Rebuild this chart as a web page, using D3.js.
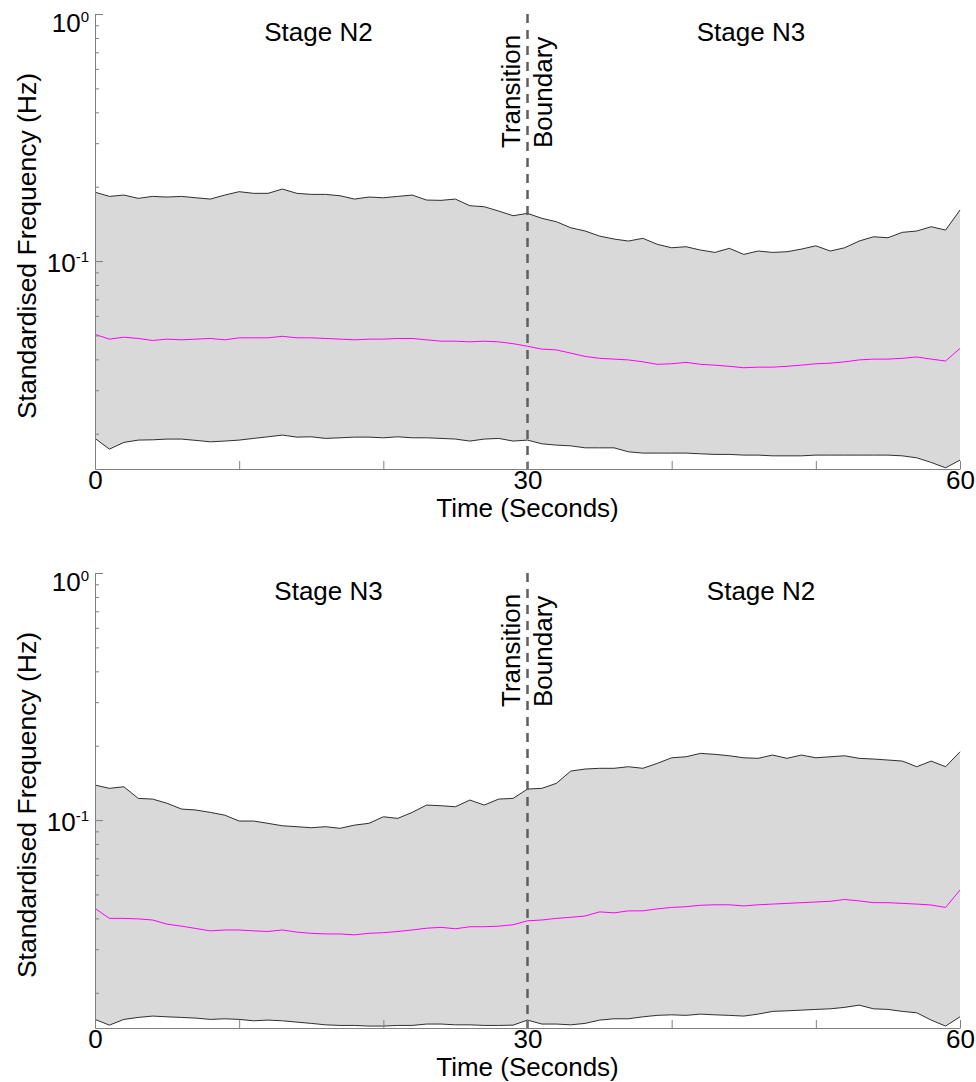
<!DOCTYPE html>
<html>
<head>
<meta charset="utf-8">
<script src="https://cdn.jsdelivr.net/npm/d3@7"></script>
<style>
  body { margin: 0; background: #fff; }
  svg { display: block; font-family: "Liberation Sans", Arial, sans-serif; }
</style>
</head>
<body>
<svg id="chart" width="976" height="1082"></svg>
<script>
// time axis, one sample per second
const seconds = [0,1,2,3,4,5,6,7,8,9,10,11,12,13,14,15,16,17,18,19,20,
  21,22,23,24,25,26,27,28,29,30,31,32,33,34,35,36,37,38,39,40,
  41,42,43,44,45,46,47,48,49,50,51,52,53,54,55,56,57,58,59,60];

// top panel: N2 -> N3 transition (Hz)
const n2n3Upper = [0.1900, 0.1827, 0.1850, 0.1794, 0.1827, 0.1816, 0.1827, 0.1804, 0.1782, 0.1850,
  0.1909, 0.1880, 0.1880, 0.1957, 0.1880, 0.1862, 0.1862, 0.1838, 0.1782, 0.1816,
  0.1804, 0.1827, 0.1850, 0.1766, 0.1761, 0.1782, 0.1675, 0.1659, 0.1594, 0.1526,
  0.1560, 0.1489, 0.1443, 0.1364, 0.1323, 0.1262, 0.1228, 0.1205, 0.1236, 0.1169,
  0.1132, 0.1143, 0.1108, 0.1084, 0.1126, 0.1064, 0.1098, 0.1084, 0.1091, 0.1118,
  0.1153, 0.1098, 0.1132, 0.1205, 0.1254, 0.1243, 0.1307, 0.1323, 0.1377, 0.1335,
  0.1609];
const n2n3Median = [0.0505, 0.0483, 0.0492, 0.0486, 0.0477, 0.0483, 0.0480, 0.0483, 0.0486, 0.0480,
  0.0489, 0.0489, 0.0489, 0.0496, 0.0489, 0.0489, 0.0486, 0.0483, 0.0480, 0.0483,
  0.0483, 0.0486, 0.0486, 0.0480, 0.0474, 0.0474, 0.0471, 0.0474, 0.0471, 0.0463,
  0.0452, 0.0440, 0.0437, 0.0424, 0.0411, 0.0404, 0.0401, 0.0398, 0.0391, 0.0382,
  0.0384, 0.0389, 0.0382, 0.0379, 0.0375, 0.0370, 0.0372, 0.0372, 0.0375, 0.0379,
  0.0384, 0.0386, 0.0391, 0.0398, 0.0401, 0.0401, 0.0404, 0.0409, 0.0401, 0.0394,
  0.0443];
const n2n3Lower = [0.01915, 0.01733, 0.01845, 0.01885, 0.01890, 0.01903, 0.01903, 0.01880, 0.01855, 0.01868,
  0.01885, 0.01915, 0.01944, 0.01975, 0.01938, 0.01944, 0.01915, 0.01926, 0.01938, 0.01938,
  0.01926, 0.01944, 0.01926, 0.01926, 0.01915, 0.01903, 0.01868, 0.01903, 0.01915, 0.01868,
  0.01885, 0.01821, 0.01799, 0.01787, 0.01754, 0.01754, 0.01754, 0.01690, 0.01670, 0.01670,
  0.01670, 0.01670, 0.01659, 0.01650, 0.01650, 0.01639, 0.01639, 0.01628, 0.01628, 0.01628,
  0.01639, 0.01639, 0.01639, 0.01639, 0.01639, 0.01639, 0.01628, 0.01598, 0.01531, 0.01456,
  0.01564];

// bottom panel: N3 -> N2 transition (Hz)
const n3n2Upper = [0.1386, 0.1344, 0.1364, 0.1224, 0.1216, 0.1169, 0.1108, 0.1098, 0.1074, 0.1047,
  0.0991, 0.0991, 0.0970, 0.0948, 0.0940, 0.0931, 0.0940, 0.0926, 0.0954, 0.0970,
  0.1031, 0.1016, 0.1074, 0.1150, 0.1143, 0.1132, 0.1205, 0.1150, 0.1216, 0.1224,
  0.1335, 0.1344, 0.1408, 0.1579, 0.1609, 0.1620, 0.1620, 0.1644, 0.1620, 0.1696,
  0.1787, 0.1804, 0.1862, 0.1845, 0.1821, 0.1787, 0.1778, 0.1833, 0.1778, 0.1833,
  0.1787, 0.1804, 0.1821, 0.1778, 0.1766, 0.1750, 0.1733, 0.1644, 0.1733, 0.1644,
  0.1890];
const n3n2Median = [0.0439, 0.0400, 0.0400, 0.0398, 0.0394, 0.0379, 0.0372, 0.0364, 0.0356, 0.0359,
  0.0359, 0.0356, 0.0354, 0.0359, 0.0352, 0.0348, 0.0346, 0.0346, 0.0343, 0.0348,
  0.0350, 0.0354, 0.0359, 0.0365, 0.0368, 0.0363, 0.0370, 0.0370, 0.0372, 0.0377,
  0.0391, 0.0394, 0.0400, 0.0404, 0.0409, 0.0425, 0.0421, 0.0429, 0.0429, 0.0437,
  0.0443, 0.0446, 0.0452, 0.0454, 0.0454, 0.0449, 0.0454, 0.0457, 0.0460, 0.0463,
  0.0466, 0.0469, 0.0477, 0.0471, 0.0463, 0.0463, 0.0460, 0.0457, 0.0453, 0.0443,
  0.0521];
const n3n2Lower = [0.01560, 0.01479, 0.01560, 0.01589, 0.01609, 0.01598, 0.01589, 0.01579, 0.01560, 0.01569,
  0.01560, 0.01540, 0.01550, 0.01540, 0.01521, 0.01503, 0.01483, 0.01475, 0.01475, 0.01466,
  0.01466, 0.01475, 0.01475, 0.01494, 0.01494, 0.01483, 0.01483, 0.01475, 0.01475, 0.01479,
  0.01550, 0.01494, 0.01494, 0.01483, 0.01503, 0.01550, 0.01569, 0.01569, 0.01598, 0.01620,
  0.01628, 0.01620, 0.01639, 0.01628, 0.01620, 0.01609, 0.01639, 0.01681, 0.01690, 0.01701,
  0.01712, 0.01722, 0.01745, 0.01782, 0.01722, 0.01712, 0.01681, 0.01659, 0.01550, 0.01466,
  0.01598];

const xTicks = [0, 10, 20, 30, 40, 50, 60];
const xTickLabels = [0, 30, 60];
const yMajorTicks = [1, 0.1];
const yMajorExp = ["0", "-1"];
const yMinorTicks = [0.9, 0.8, 0.7, 0.6, 0.5, 0.4, 0.3, 0.2,
  0.09, 0.08, 0.07, 0.06, 0.05, 0.04, 0.03, 0.02];
const yDomain = [0.0144, 1];
const boundaryTime = 30;

const topStages = ["Stage N2", "Stage N3"];
const topStageAt = [15.5, 45.5];
const bottomStages = ["Stage N3", "Stage N2"];
const bottomStageAt = [16.2, 46.2];

const svg = d3.select('#chart');
const left = 95, right = 960, plotH = 455;

function drawPanel(top, upper, median, lower, stages, stageAt) {
  const x = d3.scaleLinear().domain([0, 60]).range([left, right]);
  const y = d3.scaleLog().domain(yDomain).range([top + plotH, top]);
  const g = svg.append('g');

  const rows = seconds.map((t, i) => ({ t, hi: upper[i], mid: median[i], lo: lower[i] }));

  // grey spread between lower and upper bounds
  g.append('path')
    .datum(rows)
    .attr('fill', '#d9d9d9')
    .attr('d', d3.area().x(d => x(d.t)).y0(d => y(d.lo)).y1(d => y(d.hi)));

  const line = key => d3.line().x(d => x(d.t)).y(d => y(d[key]));
  g.append('path').datum(rows).attr('fill', 'none').attr('stroke', '#1a1a1a')
    .attr('stroke-width', 0.9).attr('d', line('hi'));
  g.append('path').datum(rows).attr('fill', 'none').attr('stroke', '#1a1a1a')
    .attr('stroke-width', 0.9).attr('d', line('lo'));
  g.append('path').datum(rows).attr('fill', 'none').attr('stroke', '#ff00ff')
    .attr('stroke-width', 1).attr('d', line('mid'));

  // transition boundary
  g.append('line')
    .attr('x1', x(boundaryTime)).attr('x2', x(boundaryTime))
    .attr('y1', top).attr('y2', top + plotH)
    .attr('stroke', '#5f5f5f').attr('stroke-width', 2.5)
    .attr('stroke-dasharray', '9,7');

  // axes (ticks point into the plot)
  const xAxis = g.append('g')
    .attr('transform', `translate(0,${top + plotH})`)
    .call(d3.axisBottom(x).tickValues(xTicks).tickSizeInner(-8).tickSizeOuter(0)
      .tickPadding(2).tickFormat(d => xTickLabels.includes(d) ? d : ''));
  xAxis.select('.domain').attr('stroke', '#808080');
  xAxis.selectAll('.tick line').attr('stroke', '#808080');
  xAxis.selectAll('.tick text').attr('fill', '#000').style('font-size', '26px')
    .style('font-family', '"Liberation Sans", Arial, sans-serif');

  const yAxis = g.append('g')
    .attr('transform', `translate(${left},0)`)
    .call(d3.axisRight(y).tickValues(yMajorTicks).tickSize(8).tickSizeOuter(0).tickFormat(''));
  yAxis.select('.domain').attr('stroke', '#808080');
  yAxis.selectAll('.tick line').attr('stroke', '#808080');

  const yMinor = g.append('g')
    .attr('transform', `translate(${left},0)`)
    .call(d3.axisRight(y).tickValues(yMinorTicks).tickSize(4).tickSizeOuter(0).tickFormat(''));
  yMinor.select('.domain').remove();
  yMinor.selectAll('.tick line').attr('stroke', '#808080');

  // power-of-ten labels
  yMajorTicks.forEach((v, i) => {
    const base = Math.max(y(v) + 11, top + 18);
    const t = g.append('text').attr('x', 89).attr('y', base)
      .attr('text-anchor', 'end').style('font-size', '26px');
    t.append('tspan').text('10');
    t.append('tspan').attr('dy', -10).style('font-size', '15px').text(yMajorExp[i]);
  });

  g.append('text')
    .attr('transform', `translate(36,${top + 232}) rotate(-90)`)
    .attr('text-anchor', 'middle').style('font-size', '26.5px')
    .text('Standardised Frequency (Hz)');

  g.append('text')
    .attr('x', x(30)).attr('y', top + plotH + 48)
    .attr('text-anchor', 'middle').style('font-size', '26px')
    .text('Time (Seconds)');

  stages.forEach((s, i) => {
    g.append('text').attr('x', x(stageAt[i])).attr('y', top + 27)
      .attr('text-anchor', 'middle').style('font-size', '26px').text(s);
  });

  g.append('text')
    .attr('transform', `translate(${x(boundaryTime) - 8},${top + 134}) rotate(-90)`)
    .style('font-size', '26px').text('Transition');
  g.append('text')
    .attr('transform', `translate(${x(boundaryTime) + 24},${top + 134}) rotate(-90)`)
    .style('font-size', '26px').text('Boundary');
}

drawPanel(14, n2n3Upper, n2n3Median, n2n3Lower, topStages, topStageAt);
drawPanel(573, n3n2Upper, n3n2Median, n3n2Lower, bottomStages, bottomStageAt);
</script>
</body>
</html>
